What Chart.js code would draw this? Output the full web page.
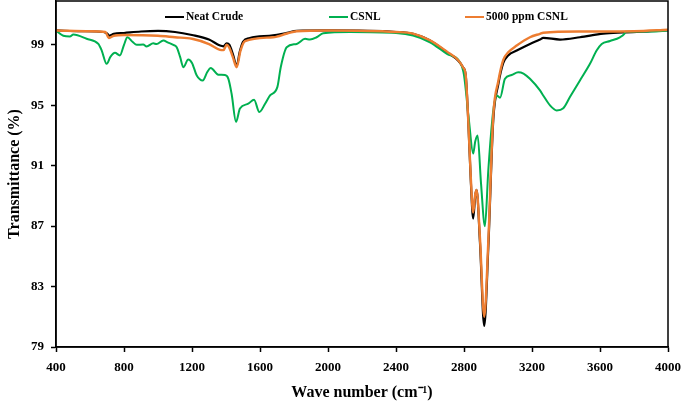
<!DOCTYPE html>
<html>
<head>
<meta charset="utf-8">
<script src="https://cdn.jsdelivr.net/npm/chart.js@4.4.1/dist/chart.umd.min.js"></script>
<style>
  html, body { margin: 0; padding: 0; background: #fff; }
</style>
</head>
<body>
<canvas id="ftirChart" width="685" height="404"></canvas>
<script>
// Axis ticks
const waveTicks = [400, 800, 1200, 1600, 2000, 2400, 2800, 3200, 3600, 4000];
const transTicks = [79, 83, 87, 91, 95, 99];

// Neat Crude
const neatWave = [400, 550, 680, 700, 715, 740, 800, 900, 1000, 1100, 1200, 1300, 1365, 1385, 1404, 1420, 1440, 1463, 1480, 1500, 1540, 1677, 1760, 1816, 2000, 2400, 2500, 2600, 2700, 2765, 2795, 2810, 2825, 2840, 2854, 2866, 2874, 2894, 2919, 2943, 2972, 3002, 3031, 3060, 3110, 3188, 3247, 3266, 3365, 3482, 3619, 3735, 3900, 4000];
const neatT = [99.95, 99.9, 99.85, 99.75, 99.6, 99.72, 99.78, 99.88, 99.92, 99.85, 99.65, 99.35, 98.95, 98.9, 99.1, 99.0, 98.4, 97.6, 98.5, 99.2, 99.45, 99.62, 99.8, 99.92, 99.95, 99.85, 99.72, 99.28, 98.5, 97.96, 97.5, 97.0, 94.0, 90.0, 87.5, 89.0, 89.4, 85.9, 80.4, 85.6, 94.0, 96.4, 97.8, 98.3, 98.62, 99.06, 99.35, 99.46, 99.35, 99.5, 99.74, 99.82, 99.9, 99.97];

// CSNL
const csnlWave = [400, 443, 482, 502, 580, 649, 669, 698, 720, 747, 776, 800, 820, 850, 875, 913, 933, 972, 992, 1031, 1060, 1090, 1110, 1130, 1149, 1178, 1200, 1228, 1263, 1290, 1310, 1355, 1394, 1414, 1433, 1459, 1482, 1531, 1565, 1596, 1630, 1659, 1702, 1722, 1757, 1816, 1865, 1894, 1933, 1972, 2129, 2400, 2500, 2600, 2700, 2776, 2800, 2829, 2854, 2866, 2880, 2900, 2923, 2943, 2966, 2978, 2992, 3012, 3041, 3080, 3119, 3150, 3188, 3247, 3266, 3306, 3345, 3384, 3423, 3482, 3541, 3580, 3610, 3659, 3717, 3743, 3750, 3900, 4000];
const csnlT = [99.94, 99.6, 99.55, 99.68, 99.4, 99.06, 98.62, 97.74, 98.2, 98.47, 98.3, 99.0, 99.5, 99.2, 99.0, 99.02, 98.89, 99.1, 99.05, 99.28, 99.15, 99.0, 98.84, 98.2, 97.52, 98.03, 97.8, 96.97, 96.64, 97.2, 97.46, 97.02, 97.0, 96.75, 95.76, 93.9, 94.78, 95.1, 95.37, 94.55, 95.1, 95.65, 96.2, 97.52, 98.84, 99.06, 99.4, 99.35, 99.5, 99.77, 99.85, 99.78, 99.61, 99.17, 98.4, 97.85, 97.0, 94.0, 91.8, 92.6, 93.0, 89.85, 87.0, 90.7, 94.0, 95.1, 95.65, 95.5, 96.75, 97.0, 97.19, 97.1, 96.75, 95.98, 95.65, 94.99, 94.66, 94.8, 95.54, 96.64, 97.74, 98.62, 99.06, 99.25, 99.5, 99.72, 99.86, 99.88, 99.95];

// 5000 ppm CSNL
const ppmWave = [400, 600, 690, 712, 740, 800, 1000, 1100, 1200, 1300, 1365, 1385, 1404, 1420, 1440, 1463, 1485, 1512, 1677, 1760, 1816, 2000, 2400, 2500, 2600, 2700, 2765, 2795, 2810, 2825, 2840, 2854, 2866, 2874, 2894, 2919, 2943, 2972, 3002, 3031, 3060, 3110, 3188, 3247, 3266, 3500, 3800, 4000];
const ppmT = [99.95, 99.9, 99.85, 99.45, 99.6, 99.65, 99.6, 99.5, 99.4, 99.05, 98.67, 98.65, 99.0, 98.8, 98.2, 97.52, 98.6, 99.24, 99.5, 99.75, 99.9, 99.95, 99.85, 99.74, 99.3, 98.55, 98.0, 97.5, 97.0, 94.0, 90.2, 87.9, 89.1, 89.4, 86.2, 81.0, 86.0, 94.3, 96.6, 98.0, 98.5, 98.95, 99.5, 99.73, 99.8, 99.88, 99.9, 100.0];

const labels = ['Neat Crude', 'CSNL', '5000 ppm CSNL'];
const colors = ['#000000', '#00B050', '#ED7D31'];

function toPoints(xs, ys) {
    return xs.map((x, i) => ({ x: x, y: ys[i] }));
}

const serif = "'Liberation Serif', 'Times New Roman', serif";

// legend drawn inside the plot, along the top
const legendStarts = [165, 329, 465];
const insideLegend = {
    id: 'insideLegend',
    afterDraw(chart) {
        const ctx = chart.ctx;
        ctx.save();
        ctx.font = 'bold 11.5px ' + serif;
        ctx.textBaseline = 'middle';
        ctx.fillStyle = '#000';
        labels.forEach((lab, i) => {
            const x = legendStarts[i];
            ctx.strokeStyle = colors[i];
            ctx.lineWidth = 2;
            ctx.beginPath();
            ctx.moveTo(x, 17);
            ctx.lineTo(x + 19, 17);
            ctx.stroke();
            ctx.fillText(lab, x + 21, 17);
        });
        ctx.restore();
    }
};

// box round the plot
const frame = {
    id: 'frame',
    afterDatasetsDraw(chart) {
        const a = chart.chartArea;
        const ctx = chart.ctx;
        ctx.save();
        ctx.strokeStyle = '#000';
        ctx.lineWidth = 1.5;
        ctx.strokeRect(a.left, a.top, a.right - a.left, a.bottom - a.top);
        ctx.restore();
    }
};

// fixed axis sizes, no extra label padding
function fitX(scale) {
    scale.height = 57;
    scale.paddingLeft = 0;
    scale.paddingRight = 0;
}
function fitY(scale) {
    scale.width = 56;
    scale.paddingTop = 0;
    scale.paddingBottom = 0;
}

const ctx = document.getElementById('ftirChart').getContext('2d');
new Chart(ctx, {
    type: 'line',
    data: {
        datasets: [
            { label: labels[0], data: toPoints(neatWave, neatT), borderColor: colors[0], borderWidth: 2.2, order: 3 },
            { label: labels[1], data: toPoints(csnlWave, csnlT), borderColor: colors[1], borderWidth: 2, order: 2 },
            { label: labels[2], data: toPoints(ppmWave, ppmT), borderColor: colors[2], borderWidth: 2.4, order: 1 }
        ]
    },
    options: {
        responsive: false,
        animation: false,
        elements: {
            point: { radius: 0 },
            line: { cubicInterpolationMode: 'monotone', fill: false }
        },
        layout: { padding: { top: 1, right: 17, left: 0, bottom: 0 } },
        plugins: {
            legend: { display: false },
            tooltip: { enabled: false }
        },
        scales: {
            x: {
                type: 'linear',
                min: 400,
                max: 4000,
                afterBuildTicks: (scale) => { scale.ticks = waveTicks.map(v => ({ value: v })); },
                afterFit: fitX,
                border: { display: true, color: '#000', width: 1.5 },
                grid: { drawOnChartArea: false, drawTicks: true, tickLength: 5, color: '#000', tickWidth: 1.5 },
                ticks: {
                    color: '#000',
                    padding: 8,
                    maxRotation: 0,
                    callback: (v) => String(v),
                    font: { family: serif, weight: 'bold', size: 13 }
                },
                title: {
                    display: true,
                    text: 'Wave number (cm⁻¹)',
                    color: '#000',
                    padding: { top: 0, bottom: 2 },
                    font: { family: serif, weight: 'bold', size: 16 }
                }
            },
            y: {
                min: 79,
                max: 101.9,
                afterBuildTicks: (scale) => { scale.ticks = transTicks.map(v => ({ value: v })); },
                afterFit: fitY,
                border: { display: true, color: '#000', width: 1.5 },
                grid: { drawOnChartArea: false, drawTicks: true, tickLength: 5, color: '#000', tickWidth: 1.5 },
                ticks: {
                    color: '#000',
                    padding: 7,
                    callback: (v) => String(v),
                    font: { family: serif, weight: 'bold', size: 13 }
                },
                title: {
                    display: true,
                    text: 'Transmittance (%)',
                    color: '#000',
                    padding: { top: 5, bottom: 0 },
                    font: { family: serif, weight: 'bold', size: 16 }
                }
            }
        }
    },
    plugins: [insideLegend, frame]
});
</script>
</body>
</html>
